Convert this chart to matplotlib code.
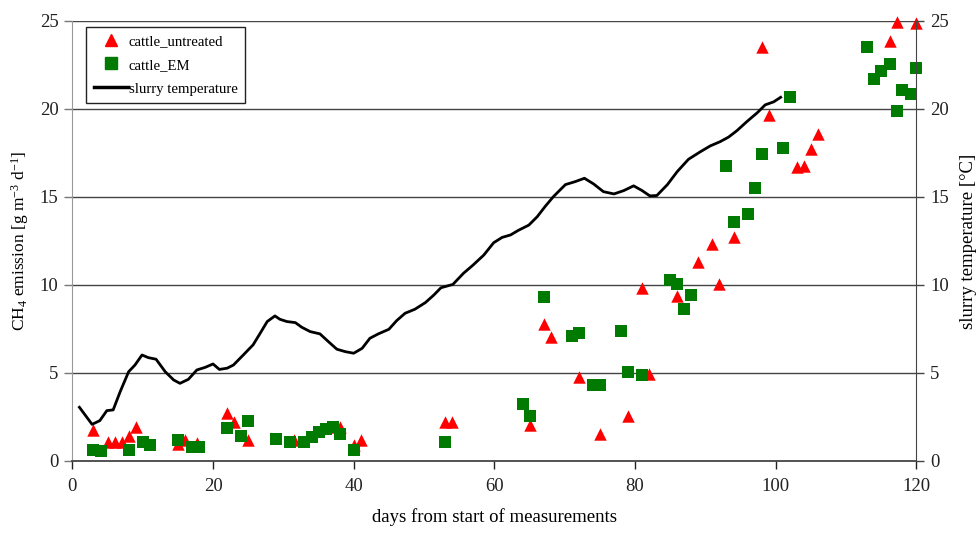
import matplotlib
matplotlib.use("Agg")
import matplotlib.pyplot as plt
from matplotlib.lines import Line2D

plt.rcParams['font.family'] = ['Liberation Serif', 'DejaVu Serif']
plt.rcParams['mathtext.fontset'] = 'custom'
plt.rcParams['mathtext.rm'] = 'Liberation Serif'
plt.rcParams['mathtext.it'] = 'Liberation Serif:italic'

# cattle_untreated (red triangles)
untreated_day = [3, 5, 6, 7, 8, 9, 15, 16, 17.7, 22, 23, 25, 31.5, 36.5, 38, 40, 41, 53, 54,
                 65, 67, 68, 72, 75, 79, 81, 82, 86, 89, 91, 92, 94, 98, 99, 103, 104, 105, 106,
                 116.2, 117.2, 120]
untreated_val = [1.75, 1.05, 1.05, 1.05, 1.4, 1.95, 0.95, 1.2, 1.0, 2.75, 2.2, 1.2, 1.2, 1.95, 1.95, 0.9, 1.2, 2.2, 2.2,
                 2.05, 7.8, 7.05, 4.75, 1.55, 2.55, 9.85, 4.95, 9.35, 11.3, 12.35, 10.05, 12.75, 23.5, 19.65, 16.7, 16.75, 17.7, 18.6,
                 23.85, 24.95, 24.9]

# cattle_EM (green squares)
em_day = [3, 4, 8, 10, 11, 15, 17, 18, 22, 24, 25, 29, 31, 33, 34, 35, 36, 37, 38, 40, 53,
          64, 65, 67, 71, 72, 74, 75, 78, 79, 81, 85, 86, 87, 88, 93, 94, 96, 97, 98, 101, 102,
          113, 114, 115, 116.3, 117.2, 118, 119.2, 120]
em_val = [0.6, 0.55, 0.6, 1.05, 0.9, 1.2, 0.8, 0.8, 1.9, 1.4, 2.25, 1.25, 1.1, 1.05, 1.35, 1.65, 1.8, 1.95, 1.55, 0.6, 1.1,
          3.25, 2.55, 9.3, 7.1, 7.25, 4.3, 4.3, 7.4, 5.05, 4.9, 10.3, 10.05, 8.65, 9.45, 16.75, 13.55, 14.05, 15.5, 17.45, 17.8, 20.7,
          23.5, 21.7, 22.15, 22.55, 19.9, 21.05, 20.85, 22.3]

# slurry temperature (black line)
temp_day = [1, 2.8, 3.9, 4.9, 5.8, 6.8, 8.0, 8.9, 9.9, 10.8, 11.9, 13.2, 14.4, 15.3, 16.5, 17.7, 18.9, 20, 20.9,
            22, 22.9, 24.3, 25.7, 26.8, 27.7, 28.8, 29.5, 30.5, 31.7, 32.6, 33.8, 35.2, 36.4, 37.6, 38.8, 40,
            41.2, 42.3, 43.5, 45, 46.1, 47.3, 48.7, 50.2, 51.4, 52.4, 54.1, 55.6, 57, 58.5, 59.9, 61.1, 62.3,
            63.4, 64.9, 66.1, 67.2, 68.4, 70.1, 71.5, 72.8, 74.1, 75.5, 77, 78.4, 79.8, 81, 82.1, 83.1, 84.6,
            86, 87.6, 89.3, 90.7, 92.1, 93.3, 94.5, 95.9, 97.4, 98.5, 99.7, 100.7]
temp_val = [3.05, 2.08, 2.29, 2.86, 2.9, 3.94, 5.07, 5.45, 6.02, 5.87, 5.78, 5.07, 4.6, 4.41, 4.64, 5.17, 5.32, 5.51, 5.2,
            5.27, 5.45, 6.02, 6.6, 7.32, 7.92, 8.24, 8.05, 7.92, 7.86, 7.6, 7.35, 7.22, 6.78, 6.35, 6.21, 6.12,
            6.4, 6.97, 7.22, 7.48, 7.97, 8.39, 8.62, 9.0, 9.43, 9.84, 10.03, 10.66, 11.14, 11.7, 12.4, 12.7, 12.84,
            13.1, 13.4, 13.88, 14.45, 15.02, 15.7, 15.87, 16.06, 15.74, 15.3, 15.17, 15.36, 15.63, 15.36, 15.06, 15.08, 15.7,
            16.44, 17.14, 17.57, 17.9, 18.14, 18.4, 18.77, 19.28, 19.79, 20.23, 20.4, 20.66]

x_ticks = [0, 20, 40, 60, 80, 100, 120]
y_ticks = [0, 5, 10, 15, 20, 25]

fig = plt.figure(figsize=(9.78, 5.36), dpi=100)
ax = fig.add_axes([0.074, 0.14, 0.863, 0.821])
ax2 = ax.twinx()

for y in y_ticks[1:]:
    ax.axhline(y, color='#444444', lw=1.0, zorder=0)

ax.scatter(untreated_day, untreated_val, marker='^', s=80, color='#ff0000', linewidths=0, zorder=3, clip_on=False)
ax.scatter(em_day, em_val, marker='s', s=85, color='#007a00', linewidths=0, zorder=4, clip_on=False)
ax2.plot(temp_day, temp_val, color='black', lw=2.0, zorder=5)

for a in (ax, ax2):
    a.set_xlim(0, 120)
    a.set_ylim(0, 25)
    a.set_yticks(y_ticks)
    a.tick_params(direction='out', length=6, width=1, labelsize=13.5, colors='#222222')
ax.set_xticks(x_ticks)
ax.tick_params(axis='x', pad=6)
ax.tick_params(axis='y', pad=4, color='#777777')
ax2.tick_params(axis='y', pad=4, color='#444444')

ax.spines['top'].set_visible(False)
ax2.spines['top'].set_visible(False)
ax.spines['left'].set_color('#999999')
ax2.spines['left'].set_visible(False)
ax.spines['right'].set_visible(False)
ax2.spines['right'].set_color('#444444')
ax.spines['bottom'].set_color('#444444')
ax2.spines['bottom'].set_visible(False)
ax.spines['bottom'].set_linewidth(1.3)

ax.set_xlabel('days from start of measurements', fontsize=13.5, labelpad=10)
ax.set_ylabel(r'CH$_4$ emission [g m$^{-3}$ d$^{-1}$]', fontsize=12.5, labelpad=6)
ax2.set_ylabel('slurry temperature [°C]', fontsize=13.5, labelpad=8)

handles = [
    Line2D([], [], marker='^', color='#ff0000', ls='none', markersize=8),
    Line2D([], [], marker='s', color='#007a00', ls='none', markersize=8),
    Line2D([], [], color='black', lw=2.5),
]
labels = ['cattle_untreated', 'cattle_EM', 'slurry temperature']
leg = ax2.legend(handles, labels, loc='upper left', bbox_to_anchor=(0.0165, 0.986), fontsize=10.6,
                 frameon=True, fancybox=False, edgecolor='#222222', framealpha=1,
                 handlelength=2.3, handletextpad=0.1, borderpad=0.5, labelspacing=0.72, borderaxespad=0)
leg.get_frame().set_linewidth(1.0)
leg.set_zorder(10)

fig.savefig('out.png', dpi=100)
